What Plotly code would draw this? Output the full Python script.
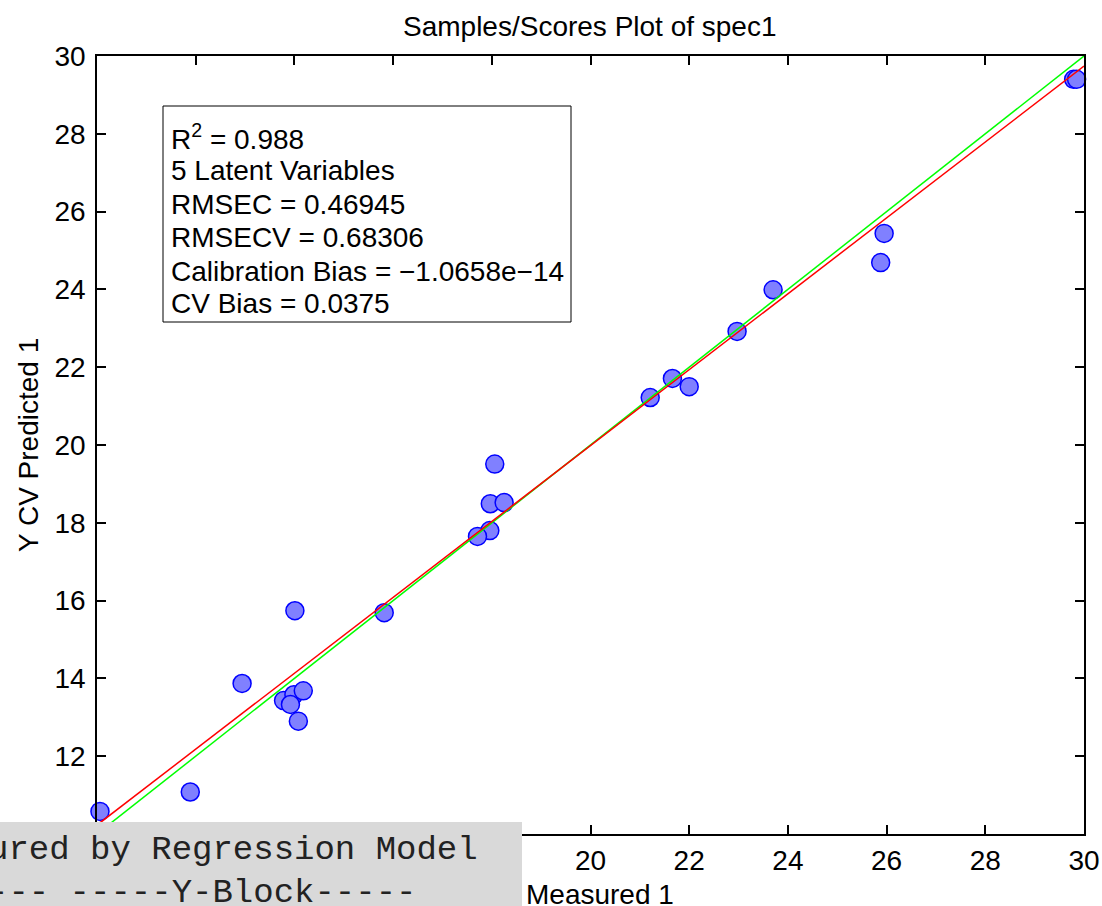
import plotly.graph_objects as go

# ---------------- data ----------------
measured = [9.99, 10.06, 11.89, 12.94, 14.01, 15.82, 13.78, 13.99, 13.92, 14.18,
            14.08, 18.06, 17.97, 18.25, 17.96, 17.71, 21.21, 21.66, 22.00, 22.97,
            23.70, 25.95, 25.88, 29.79, 29.85]
predicted = [10.52, 10.58, 11.08, 13.87, 15.74, 15.69, 13.43, 13.58, 13.33, 13.68,
             12.90, 19.51, 18.49, 18.52, 17.80, 17.65, 21.22, 21.71, 21.50, 22.92,
             23.99, 25.44, 24.69, 29.40, 29.40]
ideal_x = [10, 30]
ideal_y = [10, 30]
fit_x = [10, 30]
fit_y = [10.23, 29.74]

stats_lines = [
    "R<sup>2</sup> = 0.988",
    "5 Latent Variables",
    "RMSEC = 0.46945",
    "RMSECV = 0.68306",
    "Calibration Bias = \u22121.0658e\u221214",
    "CV Bias = 0.0375",
]
overlay_lines = ["ured by Regression Model", "--- -----Y-Block-----"]
title_text = "Samples/Scores Plot of spec1"
x_title = "Measured 1"
y_title = "Y CV Predicted 1"

# ---------------- layout geometry ----------------
W, H = 1102, 906
L, R, T, B = 97, 18, 56, 72
PW, PH = W - L - R, H - T - B


def px(x):
    return (x - L) / PW


def py(y):
    return (H - B - y) / PH


FONT = "Liberation Sans, Arial, Helvetica, sans-serif"
FS = 28

fig = go.Figure()
fig.add_trace(go.Scatter(
    x=measured, y=predicted, mode="markers", cliponaxis=False,
    marker=dict(size=18, color="#8080ff", line=dict(color="#0000ff", width=1.5)),
    showlegend=False, hoverinfo="skip"))
fig.add_trace(go.Scatter(x=ideal_x, y=ideal_y, mode="lines",
                         line=dict(color="#00ff00", width=1.5), showlegend=False))
fig.add_trace(go.Scatter(x=fit_x, y=fit_y, mode="lines",
                         line=dict(color="#ff0000", width=1.5), showlegend=False))

axis_common = dict(
    dtick=2, tick0=0, ticks="inside", ticklen=9, tickwidth=1.5, tickcolor="black",
    showline=True, linecolor="black", linewidth=1.5, mirror="ticks",
    showgrid=False, zeroline=False, automargin=False,
    tickfont=dict(family=FONT, size=FS, color="black"),
)
fig.update_xaxes(range=[10, 30], ticklabelstandoff=1, **axis_common)
fig.update_yaxes(range=[10, 30], ticklabelstandoff=4, **axis_common)

shapes = [
    # stats text box
    dict(type="rect", xref="paper", yref="paper",
         x0=px(163), x1=px(571), y0=py(322), y1=py(106),
         line=dict(color="black", width=1), fillcolor="white", layer="above"),
    # grey overlay box at bottom-left
    dict(type="rect", xref="paper", yref="paper",
         x0=px(-20), x1=px(522), y0=py(930), y1=py(822),
         line=dict(width=0), fillcolor="#d9d9d9", layer="above"),
]

annotations = []
line_ys = [137, 171, 204, 237, 271, 303]
for txt, yy in zip(stats_lines, line_ys):
    annotations.append(dict(
        text=txt, xref="paper", yref="paper", x=px(169), y=py(yy),
        xanchor="left", yanchor="middle", showarrow=False,
        font=dict(family=FONT, size=FS, color="black")))

annotations.append(dict(
    text=title_text, xref="paper", yref="paper", x=px(590), y=py(27),
    xanchor="center", yanchor="middle", showarrow=False,
    font=dict(family=FONT, size=FS, color="black")))
annotations.append(dict(
    text=x_title, xref="paper", yref="paper", x=px(600), y=py(894),
    xanchor="center", yanchor="middle", showarrow=False,
    font=dict(family=FONT, size=FS, color="black")))
annotations.append(dict(
    text=y_title, xref="paper", yref="paper", x=px(28), y=py(445),
    xanchor="center", yanchor="middle", showarrow=False, textangle=-90,
    font=dict(family=FONT, size=FS, color="black")))

for txt, yy in zip(overlay_lines, [850, 893]):
    annotations.append(dict(
        text=txt, xref="paper", yref="paper", x=px(-14), y=py(yy),
        xanchor="left", yanchor="middle", showarrow=False,
        font=dict(family="Courier New, Liberation Mono, monospace", size=34, color="#222222")))

fig.update_layout(
    template="none",
    width=W, height=H,
    margin=dict(l=L, r=R, t=T, b=B, pad=0, autoexpand=False),
    plot_bgcolor="white", paper_bgcolor="white",
    shapes=shapes, annotations=annotations,
    font=dict(family=FONT, color="black"),
    showlegend=False,
)

fig.write_html("out.html")
